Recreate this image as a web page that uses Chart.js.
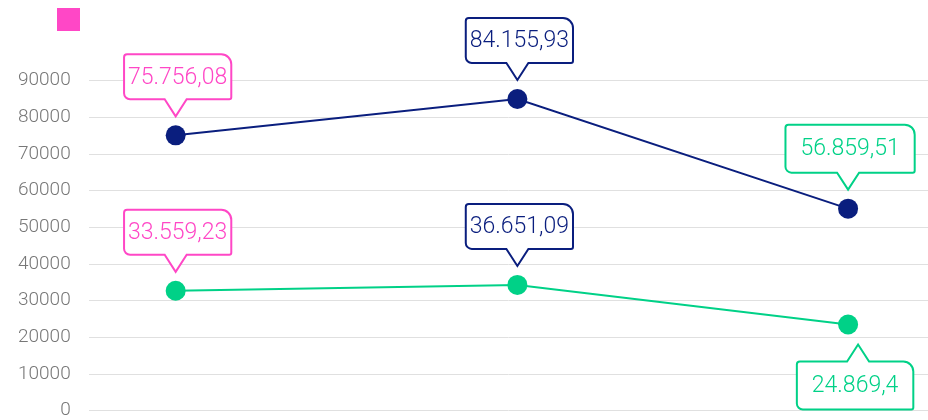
<!DOCTYPE html>
<html>
<head>
<meta charset="utf-8">
<script src="https://cdn.jsdelivr.net/npm/chart.js@4"></script>
<style>
  html, body { margin: 0; padding: 0; background: #fff; }
  #wrap { position: relative; width: 928px; height: 420px; }
</style>
</head>
<body>
<div id="wrap"><canvas id="lineChart"></canvas></div>
<script>
// x positions are day offsets (points are spaced like monthly dates)
const xDays = [0, 31, 61];
const navyValues = [75100, 85000, 55100];
const greenValues = [32700, 34300, 23500];
const navyLabels = ['75.756,08', '84.155,93', '56.859,51'];
const greenLabels = ['33.559,23', '36.651,09', '24.869,4'];
const yMax = 100000;

const NAVY = '#0a1e7e';
const GREEN = '#00d187';
const PINK = '#ff47c6';
const calloutColors = [PINK, NAVY, GREEN];

function drawCallout(ctx, px, py, text, color, below, wide) {
    ctx.save();
    ctx.font = '300 23px Roboto';
    const tw = ctx.measureText(text).width;
    const padX = wide ? 15 : 4;
    const h = wide ? 48 : 45;
    const w = tw + padX * 2;
    const pw = 11, ph = 17;
    let tipX, tipY, top, cx;
    if (!below) {
        tipX = px;
        tipY = py - 19;
        top = tipY - ph - h;
        cx = px + 2;
    } else {
        tipX = px + 10;
        tipY = py + 20;
        top = tipY + ph;
        cx = px + 7;
    }
    const left = cx - w / 2, right = cx + w / 2, bottom = top + h;
    const rTL = 3, rTR = 10, rBR = 2, rBL = 6;

    ctx.beginPath();
    ctx.moveTo(left + rTL, top);
    if (below) {
        ctx.lineTo(tipX - pw, top);
        ctx.lineTo(tipX, tipY);
        ctx.lineTo(tipX + pw, top);
    }
    ctx.arcTo(right, top, right, bottom, rTR);
    ctx.arcTo(right, bottom, left, bottom, rBR);
    if (!below) {
        ctx.lineTo(tipX + pw, bottom);
        ctx.lineTo(tipX, tipY);
        ctx.lineTo(tipX - pw, bottom);
    }
    ctx.arcTo(left, bottom, left, top, rBL);
    ctx.arcTo(left, top, right, top, rTL);
    ctx.closePath();
    ctx.fillStyle = '#fff';
    ctx.fill();
    ctx.lineWidth = 2;
    ctx.strokeStyle = color;
    ctx.stroke();

    ctx.fillStyle = color;
    ctx.textAlign = 'center';
    ctx.textBaseline = 'middle';
    ctx.fillText(text, cx, top + h / 2 + 1);
    ctx.restore();
}

const calloutPlugin = {
    id: 'callouts',
    afterLayout(chart) {
        // legend square sits a bit in from the left edge
        chart.legend.left += 49;
        chart.legend.right += 49;
        chart.legend.top -= 3;
        chart.legend.bottom -= 3;
    },
    afterDatasetsDraw(chart) {
        const ctx = chart.ctx;
        chart.data.datasets.forEach((ds, di) => {
            const meta = chart.getDatasetMeta(di);
            meta.data.forEach((pt, i) => {
                const below = ds.calloutBelow ? ds.calloutBelow[i] : false;
                drawCallout(ctx, pt.x, pt.y, ds.callouts[i], calloutColors[i], below, i === 2);
            });
        });
    }
};

Chart.defaults.font.family = 'Roboto';

const ctx = document.getElementById('lineChart').getContext('2d');
const lineChart = new Chart(ctx, {
    type: 'line',
    data: {
        datasets: [{
            label: '',
            data: xDays.map((x, i) => ({ x: x, y: navyValues[i] })),
            borderColor: NAVY,
            backgroundColor: NAVY,
            borderWidth: 2,
            pointRadius: 10,
            pointHoverRadius: 10,
            pointBorderWidth: 0,
            callouts: navyLabels
        }, {
            label: '',
            data: xDays.map((x, i) => ({ x: x, y: greenValues[i] })),
            borderColor: GREEN,
            backgroundColor: GREEN,
            borderWidth: 2,
            pointRadius: 10,
            pointHoverRadius: 10,
            pointBorderWidth: 0,
            callouts: greenLabels,
            calloutBelow: [false, false, true]
        }]
    },
    options: {
        responsive: true,
        maintainAspectRatio: false,
        animation: false,
        layout: { autoPadding: false, padding: 0 },
        plugins: {
            tooltip: { enabled: false },
            legend: {
                position: 'top',
                align: 'start',
                labels: {
                    boxWidth: 23,
                    boxHeight: 23,
                    padding: 8,
                    generateLabels: () => [{
                        text: '',
                        fillStyle: PINK,
                        strokeStyle: PINK,
                        lineWidth: 0,
                        hidden: false,
                        datasetIndex: 0
                    }]
                }
            }
        },
        scales: {
            x: {
                type: 'linear',
                display: false,
                min: -7.89,
                max: 68.25
            },
            y: {
                min: 0,
                max: yMax,
                border: { display: false },
                grid: {
                    drawTicks: false,
                    color: c => (c.tick && c.tick.value === yMax) ? 'rgba(0,0,0,0)' : '#e0e0e0'
                },
                ticks: {
                    stepSize: 10000,
                    padding: 18,
                    color: '#777',
                    font: { size: 19, weight: 300 },
                    callback: v => v === yMax ? '' : String(v)
                },
                // top of the axis (hidden 100000 line) sits under the legend, 0 line near the bottom edge
                afterFit: s => { s.paddingTop = 44; s.paddingBottom = 9.3; }
            }
        }
    },
    plugins: [calloutPlugin]
});
</script>
</body>
</html>
